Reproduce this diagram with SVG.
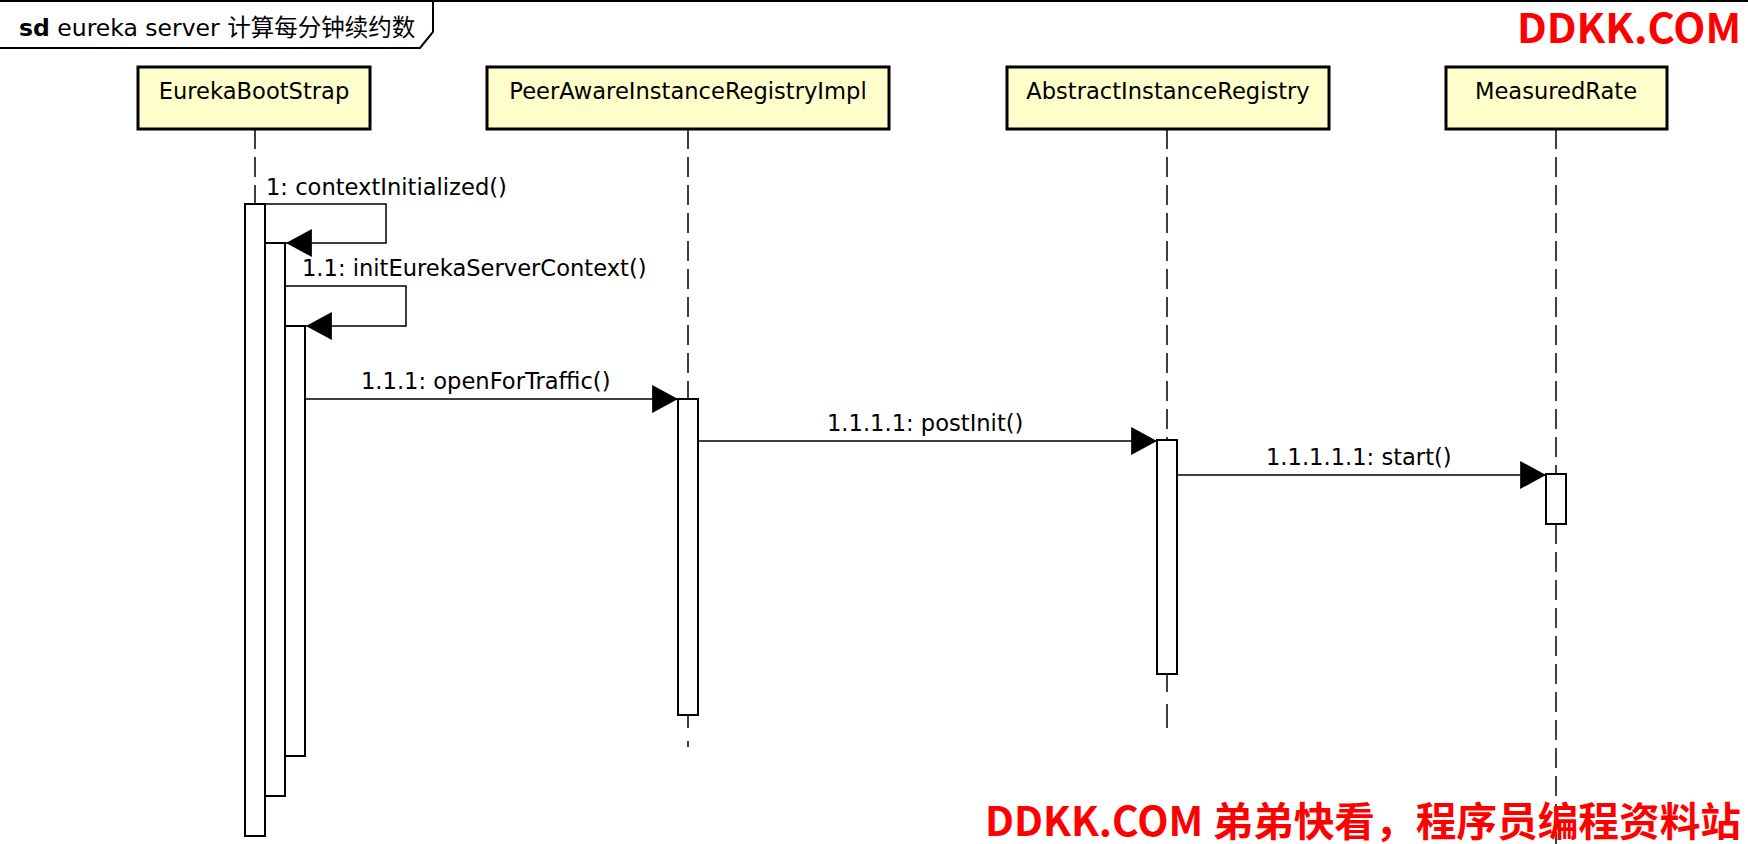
<svg xmlns="http://www.w3.org/2000/svg" width="1748" height="844" viewBox="0 0 1748 844">
<style>
.node rect{fill:#FFFFCC;stroke:#000;stroke-width:3}
.lbl{font-family:"DejaVu Sans","Liberation Sans",sans-serif;font-size:22.6px;fill:#000}
.life{stroke:#000;stroke-width:1.5;stroke-dasharray:20 8;fill:none}
.solid{stroke:#000;stroke-width:1.5;fill:none}
.bar{fill:#fff;stroke:#000;stroke-width:2}
.msg{stroke:#000;stroke-width:1.5;fill:none;marker-end:url(#arr)}
.wm{font-family:"Noto Sans CJK SC","Liberation Sans",sans-serif;font-weight:bold;fill:#FF0000}
</style>
<defs>
<marker id="arr" markerUnits="userSpaceOnUse" markerWidth="26" markerHeight="28" viewBox="0 0 24 26" refX="24" refY="13" orient="auto">
<path d="M0,0 L24,13 L0,26 Z" fill="#000"/>
</marker>
</defs>
<rect width="1748" height="844" fill="#fff"/>
<g id="frame">
<path d="M0,1 H1748" stroke="#000" stroke-width="2" fill="none"/>
<path d="M0,48 H420 L433,32 V1" stroke="#000" stroke-width="2" fill="none"/>
<text x="19" y="36" font-family="DejaVu Sans,sans-serif" font-size="23.5px"><tspan font-weight="bold">sd</tspan> eureka server <tspan font-family="'Noto Sans CJK SC',sans-serif">计算每分钟续约数</tspan></text>
</g>
<g id="lifelines">
<path class="life" d="M255,129 V204"/>
<path class="life" d="M688,129 V399"/>
<path class="solid" d="M688,715 V728 M688,741 V747"/>
<path class="life" d="M1167,129 V440"/>
<path class="solid" d="M1167,674 V692 M1167,704 V728"/>
<path class="life" d="M1556,129 V474"/>
<path class="life" d="M1556,524 V844"/>
</g>
<g id="n1" class="node">
<rect x="138" y="67" width="232" height="62"/>
<text class="lbl" x="254" y="99" text-anchor="middle">EurekaBootStrap</text>
</g>
<g id="n2" class="node">
<rect x="487" y="67" width="402" height="62"/>
<text class="lbl" x="688" y="99" text-anchor="middle">PeerAwareInstanceRegistryImpl</text>
</g>
<g id="n3" class="node">
<rect x="1007" y="67" width="322" height="62"/>
<text class="lbl" x="1168" y="99" text-anchor="middle">AbstractInstanceRegistry</text>
</g>
<g id="n4" class="node">
<rect x="1446" y="67" width="221" height="62"/>
<text class="lbl" x="1556" y="99" text-anchor="middle">MeasuredRate</text>
</g>
<g id="activations">
<rect class="bar" x="245" y="204" width="20" height="632"/>
<rect class="bar" x="265" y="243" width="20" height="553"/>
<rect class="bar" x="285" y="326" width="20" height="430"/>
<rect class="bar" x="678" y="399" width="20" height="316"/>
<rect class="bar" x="1157" y="440" width="20" height="234"/>
<rect class="bar" x="1546" y="474" width="20" height="50"/>
</g>
<g id="connectors">
<path class="msg" d="M265,204 H386 V243 H286"/>
<text class="lbl" x="266" y="195">1: contextInitialized()</text>
<path class="msg" d="M285,286 H406 V326 H306"/>
<text class="lbl" x="302" y="276">1.1: initEurekaServerContext()</text>
<path class="msg" d="M305,399 H678"/>
<text class="lbl" x="361" y="389">1.1.1: openForTraffic()</text>
<path class="msg" d="M698,441 H1157"/>
<text class="lbl" x="827" y="431">1.1.1.1: postInit()</text>
<path class="msg" d="M1177,475 H1546"/>
<text class="lbl" x="1266" y="465">1.1.1.1.1: start()</text>
</g>
<g id="watermarks">
<text class="wm" x="1741" y="43" font-size="40" text-anchor="end" textLength="224" lengthAdjust="spacingAndGlyphs">DDKK.COM</text>
<text class="wm" x="1741" y="836" font-size="40" text-anchor="end" textLength="756" lengthAdjust="spacingAndGlyphs">DDKK.COM 弟弟快看，程序员编程资料站</text>
</g>
</svg>
